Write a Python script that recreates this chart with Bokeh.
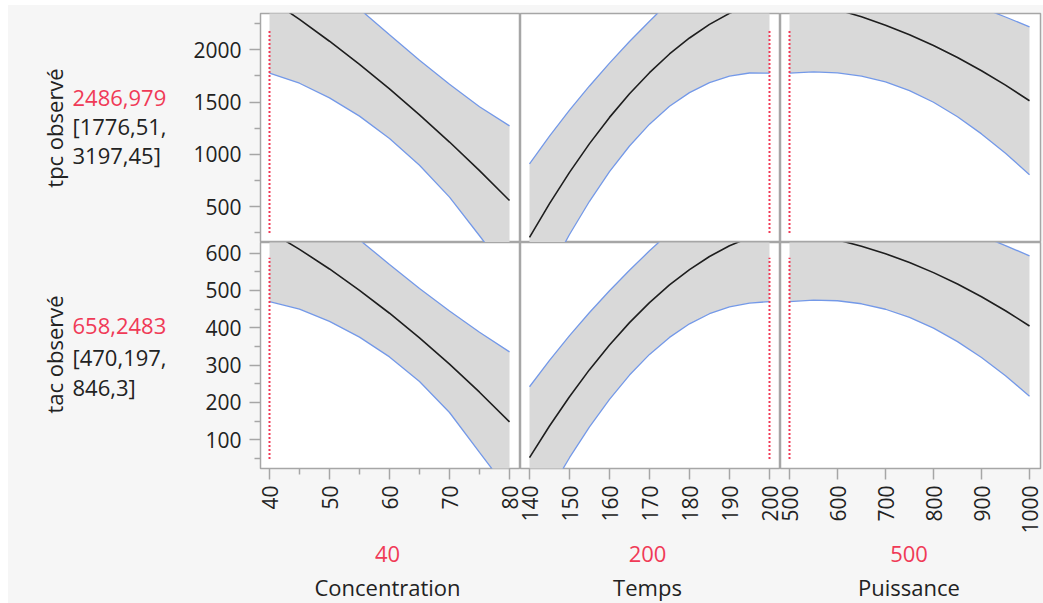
import math
from bokeh.plotting import figure
from bokeh.models import Range1d, FixedTicker, ColumnDataSource, Spacer, Label
from bokeh.layouts import column, row
from bokeh.embed import file_html
from bokeh.resources import INLINE

# ---------------- data ----------------
factor_names = ["Concentration", "Temps", "Puissance"]
factor_current = [40, 200, 500]
factor_current_label = ["40", "200", "500"]

response_names = ["tpc observé", "tac observé"]
response_pred = ["2486,979", "658,2483"]
response_ci = [["[1776,51,", "3197,45]"], ["[470,197,", "846,3]"]]

conc = [40, 45, 50, 55, 60, 65, 70, 75, 80]
temps = [140, 145, 150, 155, 160, 165, 170, 175, 180, 185, 190, 195, 200]
puiss = [500, 550, 600, 650, 700, 750, 800, 850, 900, 950, 1000]

tpc_conc_mean = [2487, 2291, 2082, 1860, 1625, 1377, 1117, 843, 557]
tpc_conc_lo = [1776.5, 1680, 1540, 1365, 1150, 895, 590, 220, -158]
tpc_conc_hi = [3197.5, 2924, 2653, 2391, 2143, 1900, 1670, 1455, 1272]

tpc_temps_mean = [205, 528, 827, 1102, 1353, 1579, 1781, 1960, 2113, 2243, 2349, 2430, 2487]
tpc_temps_lo = [-499, -118, 232, 550, 833, 1079, 1288, 1459, 1590, 1686, 1749, 1778, 1776.5]
tpc_temps_hi = [909, 1174, 1422, 1654, 1873, 2079, 2274, 2461, 2636, 2800, 2949, 3082, 3197.5]

tpc_puiss_mean = [2487, 2441, 2384, 2316, 2236, 2144, 2041, 1926, 1799, 1662, 1512]
tpc_puiss_lo = [1776.5, 1789, 1780, 1749, 1693, 1609, 1498, 1359, 1195, 1009, 804]
tpc_puiss_hi = [3197.5, 3094, 2988, 2883, 2779, 2679, 2584, 2493, 2403, 2314, 2220]

tac_conc_mean = [658.2, 610.1, 557.5, 500.4, 438.9, 372.9, 302.4, 227.4, 148]
tac_conc_lo = [470.2, 450, 417, 375, 322, 256, 173, 66, -39.5]
tac_conc_hi = [846.3, 775.5, 704.7, 635.4, 569.7, 505, 445, 388, 335.5]

tac_temps_mean = [52, 136.9, 215.4, 287.8, 353.8, 413.8, 467.4, 514.7, 555.9, 590.9, 619.5, 642.1, 658.2]
tac_temps_lo = [-138, -39, 51.9, 134.6, 208.4, 273.3, 328.6, 374.2, 410.6, 437.6, 456, 466.1, 470.2]
tac_temps_hi = [242, 312.8, 378.9, 440.9, 499.1, 554.2, 606.1, 655.1, 701.2, 744, 783, 818, 846.3]

tac_puiss_mean = [658.2, 648.5, 635.3, 618.6, 598.4, 574.8, 547.7, 517.2, 483.1, 445.7, 404.7]
tac_puiss_lo = [470.2, 474.1, 472.4, 464.3, 449.6, 427.8, 398.9, 362.9, 320.2, 271.3, 216.7]
tac_puiss_hi = [846.3, 822.9, 798.2, 772.9, 747.2, 721.8, 696.5, 671.5, 646, 620.1, 592.7]

x_ticks = [[40, 50, 60, 70, 80], [140, 150, 160, 170, 180, 190, 200], [500, 600, 700, 800, 900, 1000]]
x_minor = [[45, 55, 65, 75], [], []]
y_ticks = [[500, 1000, 1500, 2000], [100, 200, 300, 400, 500, 600]]
y_minor = [[250, 750, 1250, 1750, 2250], [50, 150, 250, 350, 450, 550]]

xs = [conc, temps, puiss]
curves = [
    [(tpc_conc_mean, tpc_conc_lo, tpc_conc_hi), (tpc_temps_mean, tpc_temps_lo, tpc_temps_hi),
     (tpc_puiss_mean, tpc_puiss_lo, tpc_puiss_hi)],
    [(tac_conc_mean, tac_conc_lo, tac_conc_hi), (tac_temps_mean, tac_temps_lo, tac_temps_hi),
     (tac_puiss_mean, tac_puiss_lo, tac_puiss_hi)],
]

# ---------------- styling / layout ----------------
FONT = "Open Sans"
BG = "#f6f6f6"
TXT = "#222222"
RED = "#f03a57"
GRAY = "#a6a6a6"
BAND = "#d9d9d9"
BLUE = "#7499e8"

x_ranges = [(38.5, 81.83), (137.75, 202.75), (481.25, 1022.9)]
y_ranges = [(155.4, 2347.5), (23.0, 628.4)]
col_w = [340, 260, 263]
row_h = [237, 294]


def make_panel(r, c):
    p = figure(width=col_w[c], height=row_h[r],
               x_range=Range1d(*x_ranges[c]), y_range=Range1d(*y_ranges[r]),
               output_backend="svg", toolbar_location=None,
               x_axis_location="below" if r == 1 else None,
               y_axis_location="left" if c == 0 else None,
               min_border=0,
               min_border_left=80 if c == 0 else 0,
               min_border_right=3 if c == 2 else 0,
               min_border_top=8 if r == 0 else 0,
               min_border_bottom=66 if r == 1 else 0)
    p.background_fill_color = "white"
    p.border_fill_color = BG
    p.outline_line_color = GRAY
    p.outline_line_width = 1.5
    p.xgrid.visible = False
    p.ygrid.visible = False
    for ax in p.axis:
        ax.axis_line_color = None
        ax.major_tick_line_color = GRAY
        ax.minor_tick_line_color = GRAY
        ax.major_tick_line_width = 1.5
        ax.minor_tick_line_width = 1.5
        ax.major_tick_in = 0
        ax.major_tick_out = 11
        ax.minor_tick_in = 0
        ax.minor_tick_out = 6
        ax.major_label_text_font = FONT
        ax.major_label_text_font_size = "21px"
        ax.major_label_text_color = TXT
    if r == 1:
        p.xaxis.ticker = FixedTicker(ticks=x_ticks[c], minor_ticks=x_minor[c])
        p.xaxis.major_label_orientation = math.pi / 2
        p.xaxis.major_label_standoff = 6
    if c == 0:
        p.yaxis.ticker = FixedTicker(ticks=y_ticks[r], minor_ticks=y_minor[r])
        p.yaxis.major_label_standoff = 8

    m, lo, hi = curves[r][c]
    src = ColumnDataSource(dict(x=xs[c], m=m, lo=lo, hi=hi))
    p.varea(x="x", y1="lo", y2="hi", source=src, fill_color=BAND)
    p.line("x", "lo", source=src, line_color=BLUE, line_width=1.3)
    p.line("x", "hi", source=src, line_color=BLUE, line_width=1.3)
    p.line("x", "m", source=src, line_color="#1e1e1e", line_width=1.6)

    y0, y1 = y_ranges[r]
    span = y1 - y0
    cur = factor_current[c]
    p.segment(x0=[cur], y0=[y0 + 0.042 * span], x1=[cur], y1=[y1 - 0.068 * span],
              line_color=RED, line_width=2, line_dash="2 2")
    return p


H = 603


def text_fig(w, h, x0, x1, top_abs, bottom_abs):
    f = figure(width=w, height=h, x_range=Range1d(x0, x1),
               y_range=Range1d(H - bottom_abs, H - top_abs),
               output_backend="svg", toolbar_location=None,
               x_axis_location=None, y_axis_location=None, min_border=0)
    f.background_fill_color = BG
    f.border_fill_color = BG
    f.outline_line_color = None
    f.xgrid.visible = False
    f.ygrid.visible = False
    return f


def add_text(f, x, y_abs, txt, color=TXT, align="left", angle=0.0, size="22px"):
    f.add_layout(Label(x=x, y=H - y_abs, text=txt, text_font=FONT, text_font_size=size,
                       text_color=color, text_align=align, text_baseline="middle", angle=angle))


# left text column (absolute page coordinates: x 8..180, y 5..603)
T = text_fig(172, 598, 8, 180, 5, 603)
left_rows = [
    (127.5, [97, 125, 154.5]),
    (354, [325.5, 356, 386.5]),
]
for r in range(2):
    yc, lines = left_rows[r]
    add_text(T, 53, yc, response_names[r], align="center", angle=math.pi / 2)
    add_text(T, 72, lines[0], response_pred[r], color=RED)
    add_text(T, 72, lines[1], response_ci[r][0])
    add_text(T, 72, lines[2], response_ci[r][1])

# bottom text strip (absolute page coordinates: x 180..1043, y 536..603)
B = text_fig(863, 67, 180, 1043, 536, 603)
bcenter = [387, 647, 908.5]
for c in range(3):
    add_text(B, bcenter[c], 553.5, factor_current_label[c], color=RED, align="center")
    add_text(B, bcenter[c], 586.5, factor_names[c], align="center")

panels = [[make_panel(r, c) for c in range(3)] for r in range(2)]

right = column(row(*panels[0]), row(*panels[1]), B)
inner = row(T, right, styles={"background-color": BG})
layout = column(Spacer(width=1043, height=5), row(Spacer(width=8, height=598), inner))

open("out.html", "w").write(file_html(layout, INLINE))
